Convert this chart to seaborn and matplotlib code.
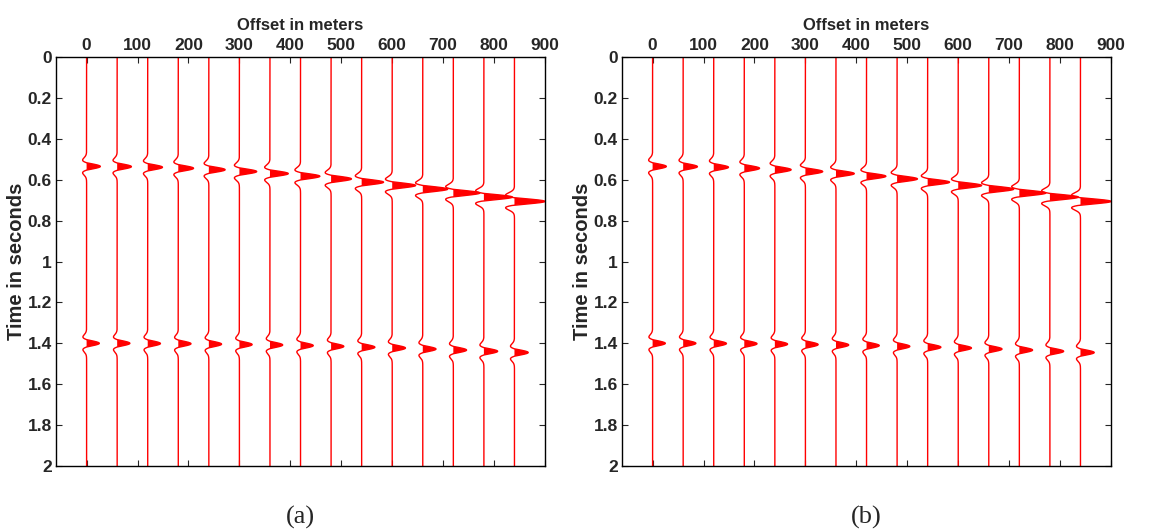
import numpy as np
import pandas as pd
import matplotlib
matplotlib.use("Agg")
import matplotlib.pyplot as plt
import seaborn as sns

# Trace offsets (m) and picked reflection times (s) for the two events
offsets = [0, 60, 120, 180, 240, 300, 360, 420, 480, 540, 600, 660, 720, 780, 840]
event1_times = [0.535, 0.536, 0.539, 0.544, 0.551, 0.560, 0.570, 0.583,
                0.596, 0.612, 0.628, 0.646, 0.665, 0.685, 0.706]
event2_times = [1.400, 1.400, 1.401, 1.402, 1.404, 1.406, 1.408, 1.411,
                1.415, 1.419, 1.423, 1.428, 1.433, 1.439, 1.445]
# Peak deflections of the wiggles, in offset units
event1_amps = [27, 28, 29, 30, 32, 34, 36, 38, 40, 43, 46, 49, 52, 56, 60]
event2_amps = [25, 25, 25, 25, 25, 25, 25, 25, 25, 26, 26, 26, 26, 27, 27]

panel_labels = ["(a)", "(b)"]
x_ticks = [0, 100, 200, 300, 400, 500, 600, 700, 800, 900]
y_ticks = [0, 0.2, 0.4, 0.6, 0.8, 1.0, 1.2, 1.4, 1.6, 1.8, 2.0]
y_ticklabels = ["0", "0.2", "0.4", "0.6", "0.8", "1", "1.2", "1.4", "1.6", "1.8", "2"]

sns.set_style("ticks")
plt.rcParams["font.family"] = ["Liberation Sans", "DejaVu Sans"]

t = np.arange(0.0, 2.0001, 0.001)
f_peak = 12.5


def wavelet(tt, f):
    # Ricker pulse with softened side lobes
    a = (np.pi * f * tt) ** 2
    w = (1 - 2 * a) * np.exp(-a)
    return np.where(w < 0, 0.65 * w, w)


fig = plt.figure(figsize=(11.53, 5.31), dpi=100)
axes = [fig.add_axes([0.0486, 0.1224, 0.4241, 0.7702]),
        fig.add_axes([0.5395, 0.1224, 0.4241, 0.7702])]

for ax, label in zip(axes, panel_labels):
    for x0, t1, t2, a1, a2 in zip(offsets, event1_times, event2_times,
                                  event1_amps, event2_amps):
        trace = a1 * wavelet(t - t1, f_peak) + a2 * wavelet(t - t2, f_peak)
        df = pd.DataFrame({"x": x0 + trace, "t": t})
        sns.lineplot(data=df, x="x", y="t", orient="y", sort=False,
                     estimator=None, color="red", linewidth=1.0, ax=ax)
        ax.fill_betweenx(t, x0, x0 + trace, where=trace > 0,
                         color="red", linewidth=0, interpolate=True)

    ax.set_xlim(-60, 900)
    ax.set_ylim(2, 0)
    ax.set_xticks(x_ticks)
    ax.set_yticks(y_ticks)
    ax.set_yticklabels(y_ticklabels)
    ax.xaxis.set_label_position("top")
    ax.tick_params(axis="both", direction="in", length=4, width=0.8,
                   top=True, bottom=True, left=True, right=True,
                   labeltop=True, labelbottom=False, labelsize=12.5, pad=3)
    for lab in ax.get_xticklabels() + ax.get_yticklabels():
        lab.set_fontweight("bold")
    ax.set_xlabel("Offset in meters", fontsize=12, fontweight="bold", labelpad=6)
    ax.set_ylabel("Time in seconds", fontsize=14.5, fontweight="bold", labelpad=1)
    for sp in ax.spines.values():
        sp.set_visible(True)
        sp.set_linewidth(1.0)
        sp.set_color("black")
    ax.text(0.5, -0.125, label, transform=ax.transAxes, ha="center", va="center",
            fontsize=19, family=["Liberation Serif", "DejaVu Serif"])

fig.savefig("out.png", dpi=100, facecolor="white")
